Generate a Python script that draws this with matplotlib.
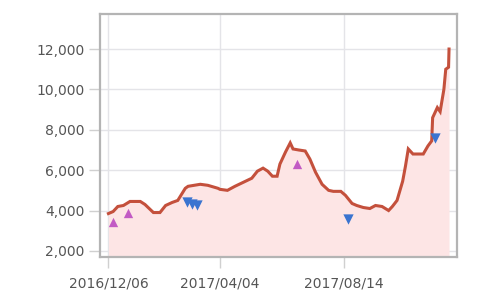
import matplotlib
matplotlib.use("Agg")
import matplotlib.pyplot as plt
import pandas as pd

start = pd.Timestamp("2016-12-06")
day_offsets = [0, 5, 10, 16, 23, 34, 39, 48, 55, 61, 68, 74, 82, 85, 98, 106, 117, 119,
               127, 135, 144, 153, 159, 165, 170, 175, 180, 183, 189, 194, 197, 203, 210,
               215, 221, 228, 235, 240, 248, 253, 260, 265, 272, 279, 285, 292, 299, 303, 308,
               314, 317, 320, 325, 336, 341, 345, 346, 351, 354, 358, 360, 363, 363.5]
prices = [3850, 3950, 4200, 4250, 4450, 4450, 4300, 3900, 3900, 4250, 4400, 4500, 5100, 5200,
          5300, 5250, 5100, 5050, 5000, 5200, 5400, 5600, 5950, 6100, 5950, 5700, 5700, 6300,
          6900, 7350, 7050, 7000, 6950, 6550, 5900, 5300, 5000, 4950, 4950, 4750, 4350, 4250,
          4150, 4100, 4250, 4200, 4000, 4200, 4500, 5450, 6200, 7050, 6800, 6800, 7200, 7450,
          8600, 9100, 8900, 10000, 11000, 11100, 12000]

buy_offsets = [5, 21, 201]
buy_values = [3450, 3900, 6300]
sell_offsets = [84, 89, 94, 256, 348]
sell_values = [4400, 4300, 4250, 3600, 7600]

tick_labels = ["2016/12/06", "2017/04/04", "2017/08/14"]
y_ticks = [2000, 4000, 6000, 8000, 10000, 12000]

dates = [start + pd.Timedelta(days=d) for d in day_offsets]
buy_dates = [start + pd.Timedelta(days=d) for d in buy_offsets]
sell_dates = [start + pd.Timedelta(days=d) for d in sell_offsets]

fig = plt.figure(figsize=(5, 3.07), dpi=100)
ax = fig.add_axes([0.2, 0.163, 0.714, 0.791])

ax.fill_between(dates, prices, 0, color="#fde5e5", zorder=1, linewidth=0)
ax.plot(dates, prices, color="#c4503c", linewidth=2.2, zorder=3, solid_joinstyle="miter")
ax.scatter(buy_dates, buy_values, marker="^", s=45, color="#c25ac4", zorder=4, linewidths=0)
ax.scatter(sell_dates, sell_values, marker="v", s=55, color="#3a74d0", zorder=4, linewidths=0)

ax.set_ylim(1700, 13730)
ax.set_xlim(start - pd.Timedelta(days=9), start + pd.Timedelta(days=372))
ax.set_yticks(y_ticks)
ax.set_yticklabels([f"{v:,}" for v in y_ticks])
tick_dates = [pd.Timestamp(t.replace("/", "-")) for t in tick_labels]
ax.set_xticks(tick_dates)
ax.set_xticklabels(tick_labels)

ax.grid(True, color="#e4e4e8", linewidth=1, zorder=0)
ax.set_axisbelow(True)
for s in ax.spines.values():
    s.set_color("#b4b4b4")
    s.set_linewidth(1.6)
ax.tick_params(axis="both", colors="#d0d0d0", labelcolor="#555555", labelsize=10,
               length=8, width=1)
ax.tick_params(axis="y", pad=3)
ax.tick_params(axis="x", pad=6)

fig.savefig("out.png", dpi=100, facecolor="white")
